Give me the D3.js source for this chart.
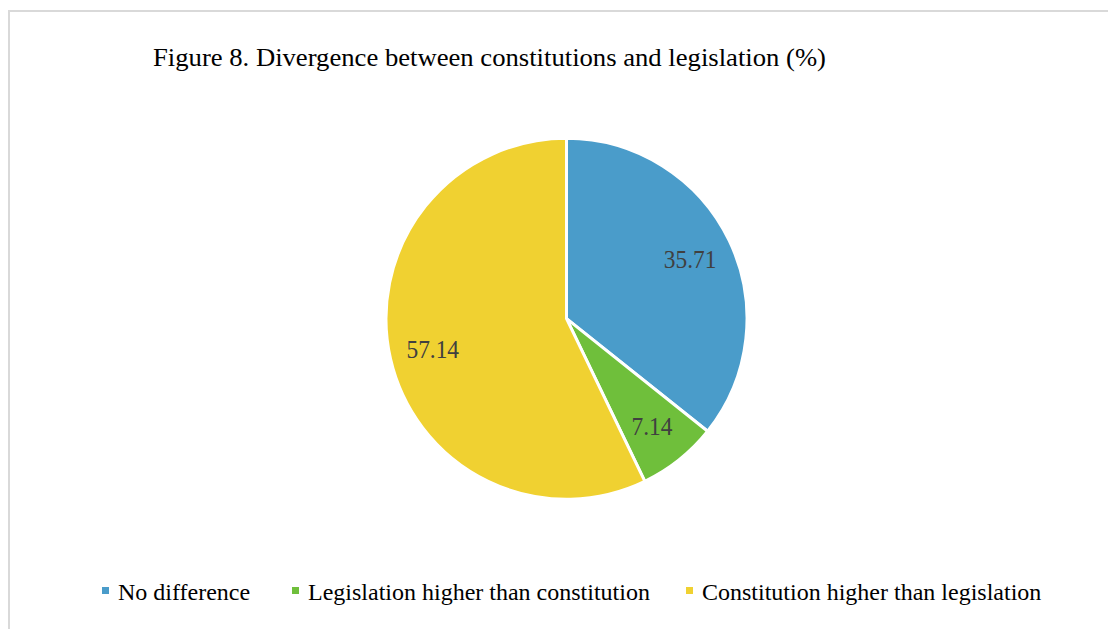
<!DOCTYPE html>
<html>
<head>
<meta charset="utf-8">
<script src="https://cdn.jsdelivr.net/npm/d3@7"></script>
<style>
  html, body { margin: 0; padding: 0; background: #fff; }
  svg { display: block; }
</style>
</head>
<body>
<svg id="chart" width="1108" height="629"></svg>
<script>
// Divergence between constitutions and legislation (%)
const categories = ["No difference", "Legislation higher than constitution", "Constitution higher than legislation"];
const values = [35.71, 7.14, 57.14];
const colors = ["#4a9cca", "#6fbf3b", "#f0d131"];
const titleText = "Figure 8. Divergence between constitutions and legislation (%)";

const svg = d3.select("#chart");
const font = "'Liberation Serif', 'Times New Roman', serif";

// chart area frame
svg.append("rect")
  .attr("x", 9).attr("y", 11)
  .attr("width", 1108).attr("height", 640)
  .attr("fill", "#fff")
  .attr("stroke", "#d9d9d9")
  .attr("stroke-width", 2);

// title (slightly condensed serif)
svg.append("text")
  .attr("x", 153).attr("y", 66)
  .attr("font-family", font)
  .attr("font-size", 26)
  .attr("fill", "#000")
  .attr("textLength", 673)
  .attr("lengthAdjust", "spacingAndGlyphs")
  .text(titleText);

// pie
const cx = 566.5, cy = 318.7, radius = 180.5;
const data = categories.map((c, i) => ({ name: c, value: values[i], color: colors[i] }));

const pie = d3.pie().value(d => d.value).sort(null);
const arc = d3.arc().innerRadius(0).outerRadius(radius);
const labelArc = d3.arc().innerRadius(radius * 0.76).outerRadius(radius * 0.76);

const g = svg.append("g").attr("transform", `translate(${cx},${cy})`);
const arcs = pie(data);

g.selectAll("path.slice")
  .data(arcs)
  .join("path")
  .attr("class", "slice")
  .attr("d", arc)
  .attr("fill", d => d.data.color)
  .attr("stroke", "#fff")
  .attr("stroke-width", 3)
  .attr("stroke-linejoin", "round");

g.selectAll("text.value")
  .data(arcs)
  .join("text")
  .attr("class", "value")
  .attr("transform", d => { const [x, y] = labelArc.centroid(d); return `translate(${x},${y}) scale(0.9,1)`; })
  .attr("text-anchor", "middle")
  .attr("dy", "0.33em")
  .attr("font-family", font)
  .attr("font-size", 26)
  .attr("fill", "#404040")
  .text(d => d.data.value.toFixed(2));

// legend
const legendX = [102, 292, 686];
const legend = svg.append("g");
const items = legend.selectAll("g.item")
  .data(data)
  .join("g")
  .attr("class", "item")
  .attr("transform", (d, i) => `translate(${legendX[i]},0)`);

items.append("rect")
  .attr("x", 0).attr("y", 587)
  .attr("width", 7).attr("height", 7)
  .attr("fill", d => d.color);

items.append("text")
  .attr("x", 16).attr("y", 600)
  .attr("font-family", font)
  .attr("font-size", 24)
  .attr("fill", "#000")
  .text(d => d.name);
</script>
</body>
</html>
